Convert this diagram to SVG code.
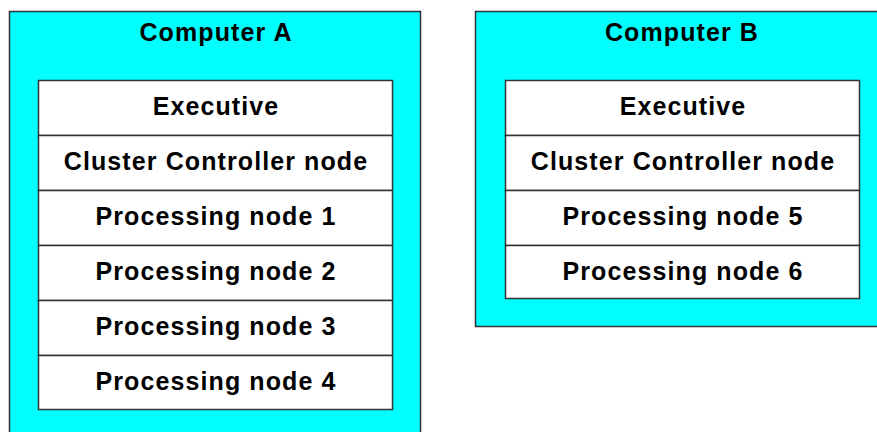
<svg xmlns="http://www.w3.org/2000/svg" width="877" height="432" viewBox="0 0 877 432">
<style>
.comp{fill:#00ffff;stroke:#333;stroke-width:1.5}
.row{fill:#fff;stroke:#333;stroke-width:1.5}
text{font-family:"Liberation Sans",Arial,sans-serif;font-weight:bold;font-size:25px;letter-spacing:1.1px;fill:#000;text-anchor:middle}
</style>
<rect width="877" height="432" fill="#fff"/>
<g id="computerA">
<rect class="comp" x="9.5" y="11.5" width="411" height="430"/>
<text x="216" y="41">Computer A</text>
</g>
<g id="computerB">
<rect class="comp" x="475.5" y="11.5" width="410" height="315"/>
<text x="682" y="41">Computer B</text>
</g>
<g id="a-exec"><rect class="row" x="38.5" y="80.5" width="354" height="55"/><text x="216" y="115">Executive</text></g>
<g id="a-cc"><rect class="row" x="38.5" y="135.5" width="354" height="55"/><text x="216" y="170">Cluster Controller node</text></g>
<g id="a-p1"><rect class="row" x="38.5" y="190.5" width="354" height="55"/><text x="216" y="225">Processing node 1</text></g>
<g id="a-p2"><rect class="row" x="38.5" y="245.5" width="354" height="55"/><text x="216" y="280">Processing node 2</text></g>
<g id="a-p3"><rect class="row" x="38.5" y="300.5" width="354" height="55"/><text x="216" y="335">Processing node 3</text></g>
<g id="a-p4"><rect class="row" x="38.5" y="355.5" width="354" height="54"/><text x="216" y="390">Processing node 4</text></g>
<g id="b-exec"><rect class="row" x="505.5" y="80.5" width="354" height="55"/><text x="683" y="115">Executive</text></g>
<g id="b-cc"><rect class="row" x="505.5" y="135.5" width="354" height="55"/><text x="683" y="170">Cluster Controller node</text></g>
<g id="b-p5"><rect class="row" x="505.5" y="190.5" width="354" height="55"/><text x="683" y="225">Processing node 5</text></g>
<g id="b-p6"><rect class="row" x="505.5" y="245.5" width="354" height="53"/><text x="683" y="280">Processing node 6</text></g>
<g id="connectors"></g>
</svg>
